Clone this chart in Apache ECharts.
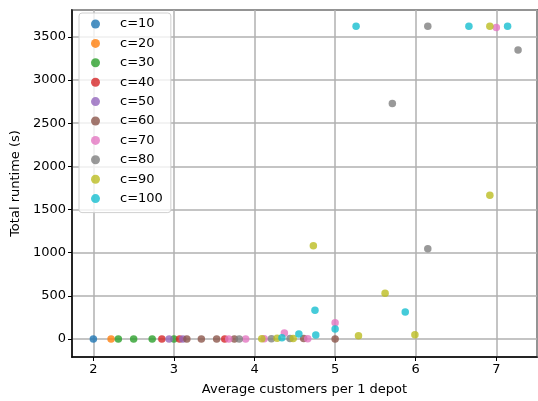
<!DOCTYPE html>
<html>
<head>
<meta charset="UTF-8">
<title>Runtime vs customers per depot</title>
<style type='text/css'>
  body { margin: 0; background: #fff; }
  #chart { width: 538px; height: 401px; }
</style>
</head>
<body>
<div id="chart"></div>
<script src="https://cdn.jsdelivr.net/npm/echarts@6/dist/echarts.min.js"></script>
<script type="text/javascript">
// [avg customers per depot, total runtime (s)] for each customer count c
var c10 = [[2.0, 0]];
var c20 = [[2.22, 0]];
var c30 = [[2.31, 0], [2.5, 0], [2.73, 0], [3.0, 0]];
var c40 = [[2.85, 0], [3.07, 0], [3.63, 0]];
var c50 = [[2.94, 0], [3.11, 0]];
var c60 = [[3.16, 0], [3.34, 0], [3.53, 0], [3.75, 0], [4.61, 5], [5.0, 0]];
var c70 = [[3.68, 0], [3.89, 0], [4.12, 2], [4.37, 69], [4.66, 2], [5.0, 188], [7.0, 3610]];
var c80 = [[3.81, 0], [4.21, 3], [4.44, 5], [5.71, 2730], [6.15, 1047], [6.15, 3625], [7.27, 3350]];
var c90 = [[4.09, 2], [4.28, 8], [4.48, 5], [4.73, 1082], [5.29, 38], [5.62, 531], [5.99, 50], [6.92, 1666], [6.92, 3625]];
var c100 = [[4.34, 15], [4.55, 58], [4.76, 46], [4.75, 335], [5.0, 115], [5.26, 3625], [5.87, 312], [6.66, 3625], [7.14, 3625]];

var names = ['c=10', 'c=20', 'c=30', 'c=40', 'c=50', 'c=60', 'c=70', 'c=80', 'c=90', 'c=100'];
var groups = [c10, c20, c30, c40, c50, c60, c70, c80, c90, c100];
var colors = ['#1f77b4', '#ff7f0e', '#2ca02c', '#d62728', '#9467bd',
              '#8c564b', '#e377c2', '#7f7f7f', '#bcbd22', '#17becf'];

var font = 'DejaVu Sans';

var series = [];
for (var i = 0; i < groups.length; i++) {
    series.push({
        name: names[i],
        type: 'scatter',
        data: groups[i],
        symbolSize: 7.5,
        itemStyle: { color: colors[i], opacity: 0.8 }
    });
}

var axisCommon = {
    axisLine: { show: true, onZero: false, lineStyle: { color: '#000', width: 1.5 } },
    axisTick: { show: true, inside: false, length: 4, lineStyle: { color: '#000', width: 1 } },
    splitLine: { show: true, lineStyle: { color: '#b0b0b0', width: 1.5 } },
    nameLocation: 'middle',
    nameTextStyle: { fontFamily: font, fontSize: 13, color: '#000' }
};

var myChart = echarts.init(document.getElementById('chart'), null, { renderer: 'canvas' });
var option = {
    animation: false,
    color: colors,
    grid: { left: 72, right: 1, top: 10, bottom: 43, show: true, borderColor: '#000', borderWidth: 1.5 },
    legend: {
        orient: 'vertical',
        left: 79,
        top: 13,
        data: names,
        icon: 'circle',
        itemWidth: 9,
        itemHeight: 9,
        itemGap: 5.4,
        padding: [4, 8, 7, 12],
        backgroundColor: 'rgba(255,255,255,0.8)',
        borderColor: '#d0d0d0',
        borderWidth: 1,
        borderRadius: 3,
        formatter: function (name) { return '{t|' + name + '}'; },
        textStyle: {
            fontFamily: font, fontSize: 13, color: '#000', lineHeight: 14,
            rich: { t: { fontFamily: font, fontSize: 13, color: '#000', padding: [0, 0, 0, 15] } }
        }
    },
    xAxis: Object.assign({}, axisCommon, {
        type: 'value',
        name: 'Average customers per 1 depot',
        nameGap: 26,
        min: 1.735,
        max: 7.505,
        splitNumber: 6,
        axisLabel: { fontFamily: font, fontSize: 13, color: '#000', margin: 6, showMinLabel: false, showMaxLabel: false }
    }),
    yAxis: Object.assign({}, axisCommon, {
        type: 'value',
        name: 'Total runtime (s)',
        nameGap: 45,
        min: -208,
        max: 3812,
        splitNumber: 8,
        axisLabel: {
            fontFamily: font, fontSize: 13, color: '#000', margin: 6,
            showMinLabel: false, showMaxLabel: false,
            formatter: function (v) { return String(v); }
        }
    }),
    series: series
};
myChart.setOption(option);
</script>
</body>
</html>
